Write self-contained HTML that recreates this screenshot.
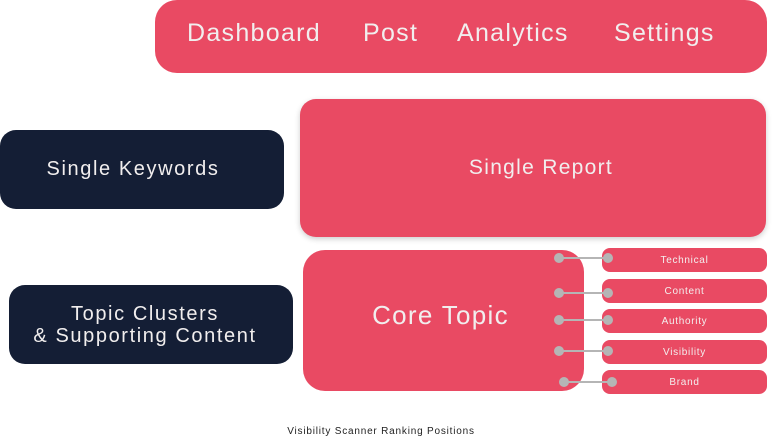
<!DOCTYPE html>
<html><head><style>
body{margin:0;width:777px;height:439px;background:#fff;position:relative;overflow:hidden;font-family:"Liberation Sans",sans-serif;}
.b{position:absolute;display:flex;align-items:center;justify-content:center;color:#f1eeee;text-align:center;box-sizing:border-box;}
.r{background:#e94a63;}
.n{background:#141e35;}
.p{position:absolute;left:602px;width:165px;height:24px;border-radius:8px;background:#e94a63;color:#f3eeee;font-size:10px;letter-spacing:0.7px;display:flex;align-items:center;justify-content:center;}
</style></head><body>
<div class="b r" style="left:155px;top:0;width:612px;height:73px;border-radius:22px;font-size:25px;letter-spacing:1.3px;">
<span style="position:absolute;left:32px;top:19px">Dashboard</span>
<span style="position:absolute;left:208px;top:19px">Post</span>
<span style="position:absolute;left:302px;top:19px">Analytics</span>
<span style="position:absolute;left:459px;top:19px">Settings</span>
</div>
<div class="b n" style="left:0;top:130px;width:284px;height:79px;border-radius:16px;font-size:20px;letter-spacing:1.6px;padding-right:18px;">Single Keywords</div>
<div class="b r" style="left:300px;top:99px;width:466px;height:138px;border-radius:16px;font-size:21px;letter-spacing:1.3px;padding-left:16px;box-shadow:0 2px 6px rgba(0,0,0,.2);">Single Report</div>
<div class="b n" style="left:9px;top:285px;width:284px;height:79px;border-radius:16px;font-size:20px;line-height:22px;letter-spacing:1.6px;padding-right:12px;">Topic Clusters<br>&amp; Supporting Content</div>
<div class="b r" style="left:303px;top:250px;width:281px;height:141px;border-radius:22px;font-size:26px;letter-spacing:1.3px;padding-right:6px;padding-bottom:10px;">Core Topic</div>
<div class="p" style="top:248px">Technical</div>
<div class="p" style="top:279px">Content</div>
<div class="p" style="top:309px">Authority</div>
<div class="p" style="top:340px">Visibility</div>
<div class="p" style="top:370px">Brand</div>
<svg style="position:absolute;left:0;top:0" width="777" height="439">
<g stroke="#b5b5b5" stroke-width="2" fill="#b5b5b5">
<line x1="559" y1="258" x2="608" y2="258"/><circle cx="559" cy="258" r="4"/><circle cx="608" cy="258" r="4"/>
<line x1="559" y1="293" x2="608" y2="293"/><circle cx="559" cy="293" r="4"/><circle cx="608" cy="293" r="4"/>
<line x1="559" y1="320" x2="608" y2="320"/><circle cx="559" cy="320" r="4"/><circle cx="608" cy="320" r="4"/>
<line x1="559" y1="351" x2="608" y2="351"/><circle cx="559" cy="351" r="4"/><circle cx="608" cy="351" r="4"/>
<line x1="564" y1="382" x2="612" y2="382"/><circle cx="564" cy="382" r="4"/><circle cx="612" cy="382" r="4"/>
</g></svg>
<div style="position:absolute;left:0;width:762px;top:426px;text-align:center;font-size:10px;letter-spacing:0.8px;color:#222;">Visibility Scanner Ranking Positions</div>
</body></html>
